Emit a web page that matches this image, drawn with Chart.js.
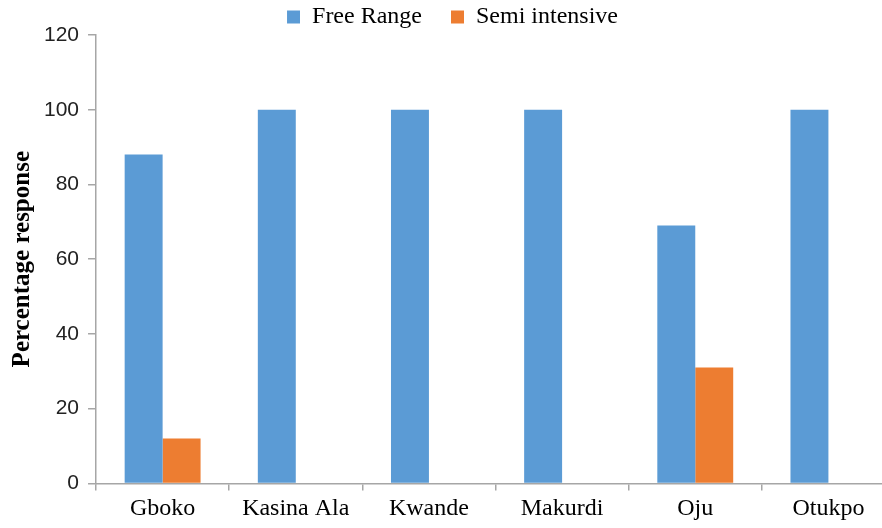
<!DOCTYPE html>
<html>
<head>
<meta charset="utf-8">
<script src="https://cdn.jsdelivr.net/npm/chart.js@4.4.1/dist/chart.umd.min.js"></script>
<style>
html,body{margin:0;padding:0;background:#fff;overflow:hidden;}
#wrap{width:900px;height:528px;position:relative;}
</style>
</head>
<body>
<div id="wrap"><canvas id="c"></canvas></div>
<script>
const categories = ["Gboko","Kasina Ala","Kwande","Makurdi","Oju","Otukpo"];
const freeRange = [88,100,100,100,69,100];
const semiIntensive = [12,0,0,0,31,0];
const yTicks = [0,20,40,60,80,100,120];

const axisColor = "#a6a6a6";

// trims the spare space Chart.js adds under a horizontal legend
const legendTrim = {
  id: "legendTrim",
  beforeLayout(chart) {
    const lg = chart.legend;
    if (lg && !lg._trimmed) {
      const orig = lg.fit.bind(lg);
      lg.fit = function() { orig(); this.height -= 4; };
      lg._trimmed = true;
    }
  }
};

new Chart(document.getElementById("c"), {
  type: "bar",
  data: {
    labels: categories,
    datasets: [
      {label:"Free Range", data: freeRange, backgroundColor:"#5b9bd5", categoryPercentage:0.57, barPercentage:1.0},
      {label:"Semi intensive", data: semiIntensive, backgroundColor:"#ed7d31", categoryPercentage:0.57, barPercentage:1.0}
    ]
  },
  plugins: [legendTrim],
  options: {
    responsive:true, maintainAspectRatio:false, animation:false,
    layout:{padding:{left:10,right:5,top:0,bottom:0}},
    plugins:{
      legend:{position:"top", labels:{
        font:{family:"Liberation Serif",size:24,lineHeight:1.0}, color:"#000", boxWidth:13, boxHeight:13, padding:5,
        generateLabels:(chart)=>{
          const items = Chart.defaults.plugins.legend.labels.generateLabels(chart);
          items.forEach((it,i)=>{ if(i < items.length-1) it.text = it.text + "    "; });
          return items;
        }
      }},
      tooltip:{enabled:false}
    },
    scales:{
      y:{min:0,max:120,
        afterBuildTicks:(s)=>{s.ticks = yTicks.map(v=>({value:v}));},
        ticks:{font:{family:"Liberation Sans",size:21,lineHeight:0.6}, color:"#222", padding:9},
        grid:{drawOnChartArea:false, color:axisColor, tickLength:8, lineWidth:1.5},
        border:{color:axisColor, width:1.5},
        title:{display:true, text:"Percentage response", font:{family:"Liberation Serif",size:25,weight:"bold",lineHeight:1.0}, color:"#000", padding:{top:0,bottom:0}}
      },
      x:{
        ticks:{font:{family:"Liberation Serif",size:24,lineHeight:0.9}, color:"#000", padding:8},
        grid:{drawOnChartArea:false, color:axisColor, tickLength:7, lineWidth:1.5, offset:true},
        border:{color:axisColor, width:1.5}
      }
    }
  }
});
</script>
</body>
</html>
